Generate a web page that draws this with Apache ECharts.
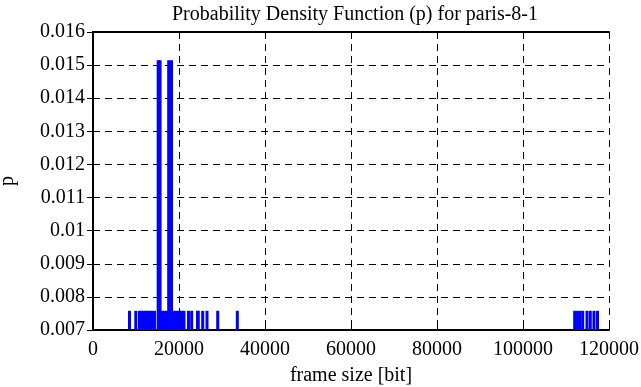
<!DOCTYPE html>
<html><head><meta charset="utf-8">
<script src="https://cdn.jsdelivr.net/npm/echarts@6/dist/echarts.min.js"></script>
<style>html,body{margin:0;padding:0;background:#fff}#c{width:641px;height:387px}</style>
</head><body><div id="c"></div>
<script>
// frame sizes (bit) with their probability
const frameSizes = [8490, 9950, 10790, 11280, 11770, 12260, 12740, 13230, 13650, 14300,
  15160, 15600, 16120, 16600, 17090, 17600, 18260, 18740, 19230, 19720, 20210, 20700, 21160,
  22210, 22950, 24300, 24490, 25510, 26510, 29000, 33560,
  112020, 112670, 113260, 113880, 114880, 115650, 116510, 117330];
const probabilities = [0.00758, 0.00758, 0.00758, 0.00758, 0.00758, 0.00758, 0.00758, 0.00758, 0.00758, 0.00758,
  0.01515, 0.01515, 0.00758, 0.00758, 0.00758, 0.01515, 0.01515, 0.00758, 0.00758, 0.00758, 0.00758, 0.00758, 0.00758,
  0.00758, 0.00758, 0.00758, 0.00758, 0.00758, 0.00758, 0.00758, 0.00758,
  0.00758, 0.00758, 0.00758, 0.00758, 0.00758, 0.00758, 0.00758, 0.00758];
const xMin = 0, xMax = 120000, xStep = 20000;
const yMin = 0.007, yMax = 0.016, yStep = 0.001;
const titleText = 'Probability Density Function (p) for paris-8-1';
const xName = 'frame size [bit]';
const yName = 'p';

const FONT = 'Liberation Serif';
const FS = 20;
const chart = echarts.init(document.getElementById('c'), null, {renderer: 'canvas'});
const lineStyle = {color: '#000', width: 2};
const tick = {show: true, inside: true, length: 6, lineStyle: {color: '#000', width: 1}};
const grid = {show: true, lineStyle: {color: '#000', width: 1, type: [7, 5]}};
chart.setOption({
  animation: false,
  backgroundColor: '#fff',
  title: {text: titleText, left: 350, top: 0, textAlign: 'center',
    textStyle: {fontFamily: FONT, fontSize: FS, fontWeight: 'normal', color: '#000'}},
  grid: {left: 93, right: 32, top: 32, bottom: 57, containLabel: false, outerBoundsMode: 'none'},
  xAxis: [
    {type: 'value', min: xMin, max: xMax, interval: xStep, position: 'bottom',
      name: xName, nameLocation: 'middle', nameGap: 36,
      nameTextStyle: {fontFamily: FONT, fontSize: FS, color: '#000'},
      axisLine: {show: true, lineStyle: lineStyle}, axisTick: tick,
      axisLabel: {fontFamily: FONT, fontSize: FS, color: '#000', margin: 10,
        formatter: v => String(v)},
      splitLine: grid},
    {type: 'value', min: xMin, max: xMax, interval: xStep, position: 'top',
      axisLine: {show: true, lineStyle: lineStyle}, axisTick: tick,
      axisLabel: {show: false}, splitLine: {show: false}}
  ],
  yAxis: [
    {type: 'value', min: yMin, max: yMax, interval: yStep, position: 'left',
      name: yName, nameLocation: 'middle', nameGap: 75, nameRotate: 90,
      nameTextStyle: {fontFamily: FONT, fontSize: FS, color: '#000'},
      axisLine: {show: true, lineStyle: lineStyle}, axisTick: tick,
      axisLabel: {fontFamily: FONT, fontSize: FS, color: '#000', margin: 8},
      splitLine: grid},
    {type: 'value', min: yMin, max: yMax, interval: yStep, position: 'right',
      axisLine: {show: true, lineStyle: lineStyle}, axisTick: tick,
      axisLabel: {show: false}, splitLine: {show: false}}
  ],
  series: [{
    type: 'bar', xAxisIndex: 0, yAxisIndex: 0, barWidth: 3, clip: true,
    itemStyle: {color: '#0000ff'},
    data: frameSizes.map((x, i) => [x, probabilities[i]])
  }]
});
</script></body></html>
